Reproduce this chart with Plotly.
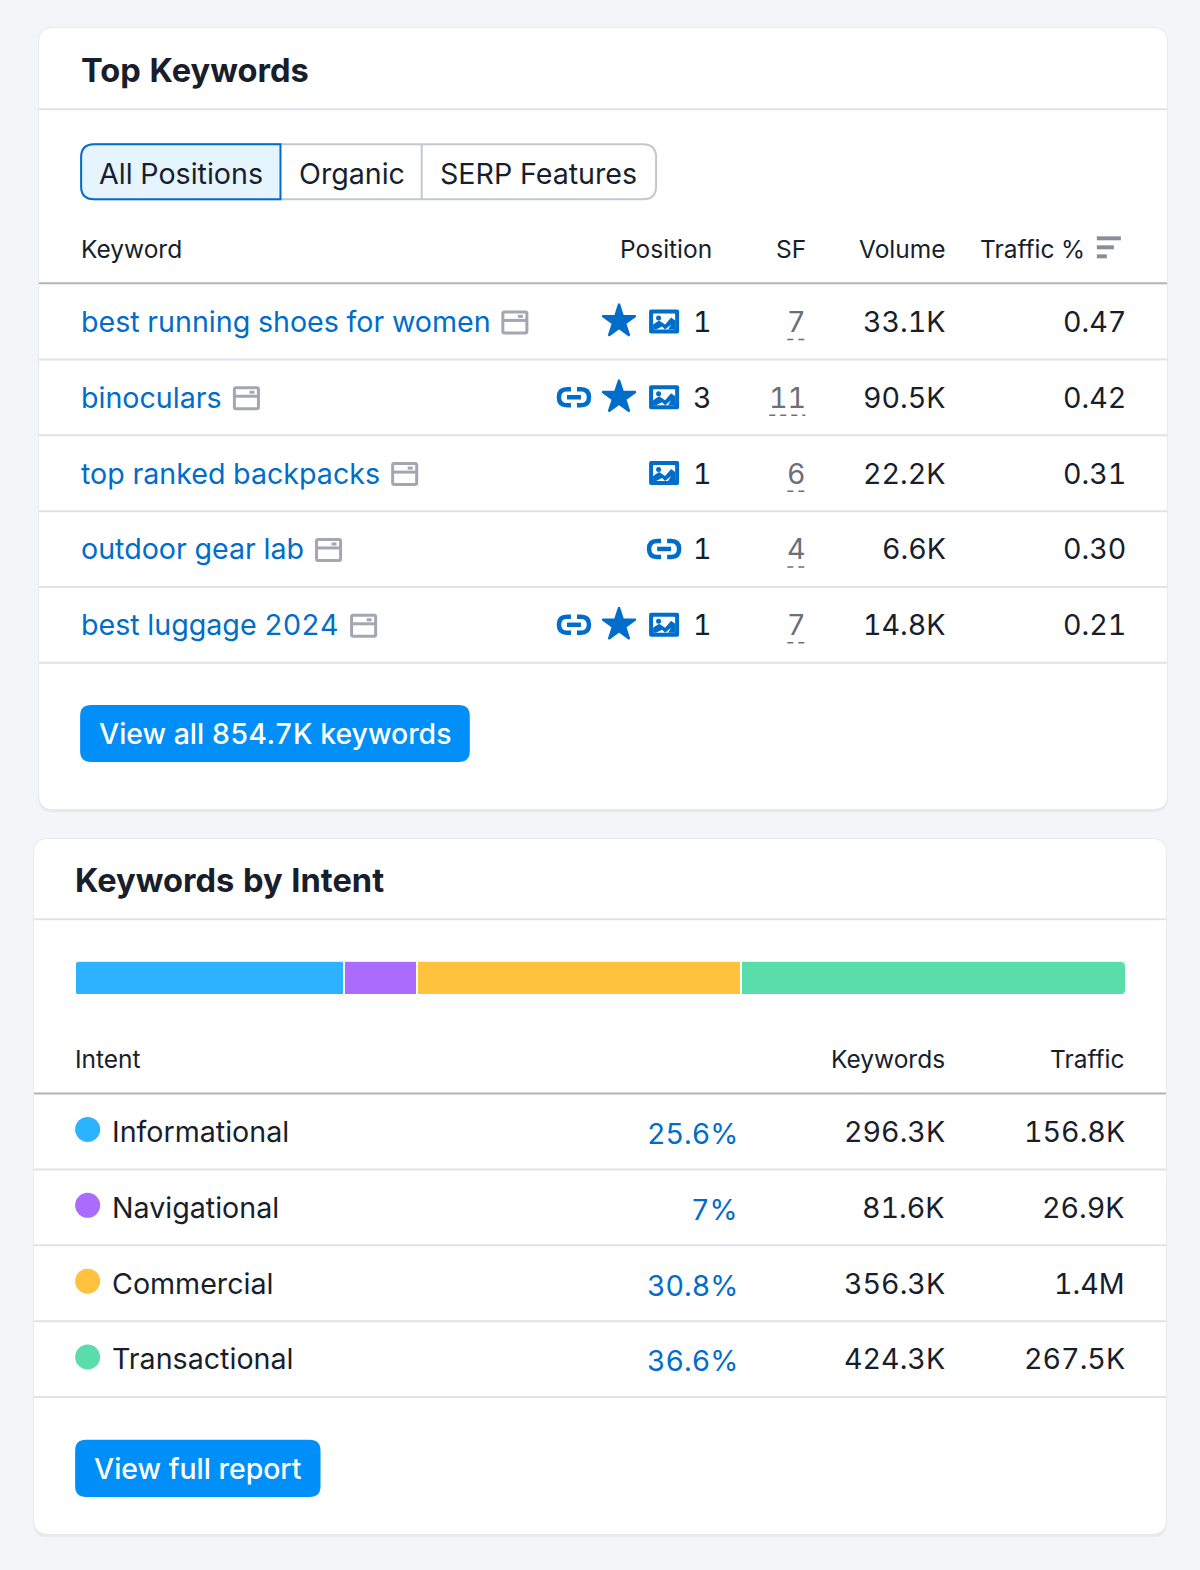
"""
Top keywords and keywords by intent panels, drawn on a pixel canvas with Plotly
"""

import plotly.graph_objects as go

WIDTH = 1200
HEIGHT = 1570
VIEW_W = 1198
VIEW_H = 1568

FONT = 'Inter'
INK = '#181e2b'
LINK = '#006dca'
GREY_ICON = '#a4a6b2'
RULE = '#e0e1e9'
RULE_STRONG = '#b0b3bb'
ROW_STEP = 75.75

# Top Keywords table: keyword, feature icons, position, SF, volume, traffic %, icon x
KEYWORDS = [
    ('best running shoes for women', ['star', 'image'], 1, 7, '33.1K', '0.47', 514),
    ('binoculars', ['link', 'star', 'image'], 3, 11, '90.5K', '0.42', 246),
    ('top ranked backpacks', ['image'], 1, 6, '22.2K', '0.31', 404),
    ('outdoor gear lab', ['link_single'], 1, 4, '6.6K', '0.30', 328),
    ('best luggage 2024', ['link', 'star', 'image'], 1, 7, '14.8K', '0.21', 363),
]

# Intent share of keywords
INTENTS = [
    ('Informational', 25.6, '25.6%', '296.3K', '156.8K', '#2bb3ff'),
    ('Navigational', 7.0, '7%', '81.6K', '26.9K', '#ab6cfe'),
    ('Commercial', 30.8, '30.8%', '356.3K', '1.4M', '#ffc23f'),
    ('Transactional', 36.6, '36.6%', '424.3K', '267.5K', '#59ddaa'),
]

# page has default body margins and proportional digits otherwise;
# nudging the sizes forces plotly to measure the tabular text again
POST_SCRIPT = """
document.body.style.margin = '0';
var s = document.createElement('style');
s.textContent = 'text {font-feature-settings: "tnum";}';
document.head.appendChild(s);
var gd = document.getElementById('{plot_id}');
var update = {};
gd.layout.annotations.forEach(function (a, i) {
    update['annotations[' + i + '].font.size'] = a.font.size + 0.01;
});
Plotly.relayout(gd, update);
"""


def rounded_rect(x0, y0, x1, y1, r):
    return (f'M{x0+r},{y0} L{x1-r},{y0} Q{x1},{y0} {x1},{y0+r} L{x1},{y1-r} Q{x1},{y1} {x1-r},{y1} '
            f'L{x0+r},{y1} Q{x0},{y1} {x0},{y1-r} L{x0},{y0+r} Q{x0},{y0} {x0+r},{y0} Z')


fig = go.Figure()
shapes = []


def add_text(x, y, text, size=28.6, color=INK, anchor='left', weight=400):
    # annotation boxes carry a little padding, take it back out
    x += {'left': -1.5, 'right': 2, 'center': 0}[anchor]
    fig.add_annotation(x=x, y=y, xref='x', yref='y', text=text, showarrow=False,
                       xanchor=anchor, yanchor='middle', borderpad=0,
                       font=dict(family=FONT, size=size, color=color, weight=weight))


def add_line(x0, x1, y, color=RULE, width=2, dash='solid'):
    shapes.append(dict(type='line', xref='x', yref='y', x0=x0, x1=x1, y0=y, y1=y, layer='above',
                       line=dict(color=color, width=width, dash=dash)))


def add_path(path, fill='rgba(0,0,0,0)', color='rgba(0,0,0,0)', width=0, layer='above'):
    shapes.append(dict(type='path', xref='x', yref='y', path=path, fillcolor=fill, layer=layer,
                       line=dict(color=color, width=width)))


def add_card(x0, y0, x1, y1):
    add_path(rounded_rect(x0 - 1, y0 - 1, x1 + 1, y1 + 3, 15), fill='#e7e9ef', layer='below')
    add_path(rounded_rect(x0, y0, x1, y1, 14), fill='white', layer='below')


def image_icon(cx, cy):
    add_path(rounded_rect(cx - 15, cy - 12, cx + 15, cy + 12, 2), fill=LINK)
    add_path(rounded_rect(cx - 11, cy - 8, cx + 11, cy + 8, 1), fill='white')
    # picture mountains
    add_path(f'M{cx-11},{cy+8} L{cx-11},{cy+3} L{cx-5},{cy-1} L{cx+1},{cy+3} L{cx+7},{cy-4} '
             f'L{cx+11},{cy-1} L{cx+11},{cy+8} L{cx+4},{cy+8} L{cx+7},{cy+3} L{cx+1},{cy+8} '
             f'L{cx-2},{cy+5} L{cx-8},{cy+8} Z', fill=LINK)
    add_path(rounded_rect(cx - 8, cy - 6, cx - 3, cy - 1, 2.5), fill=LINK)


def link_icon(cx, cy, half=15):
    h = 8
    add_path(f'M{cx-3},{cy-h} L{cx-half+8},{cy-h} Q{cx-half},{cy-h} {cx-half},{cy} '
             f'Q{cx-half},{cy+h} {cx-half+8},{cy+h} L{cx-3},{cy+h}', color=LINK, width=4.5)
    add_path(f'M{cx+3},{cy-h} L{cx+half-8},{cy-h} Q{cx+half},{cy-h} {cx+half},{cy} '
             f'Q{cx+half},{cy+h} {cx+half-8},{cy+h} L{cx+3},{cy+h}', color=LINK, width=4.5)
    add_line(cx - 7, cx + 7, cy, color=LINK, width=4.5)


def serp_icon(cx, cy):
    add_path(rounded_rect(cx - 12, cy - 10.5, cx + 12, cy + 10.5, 1.5), color=GREY_ICON, width=3)
    add_line(cx - 12, cx + 12, cy - 2, color=GREY_ICON, width=3)
    add_line(cx + 3, cx + 8, cy - 6, color=GREY_ICON, width=3)


# page cards
add_card(39, 28, 1165, 808)
add_card(34, 838, 1164, 1532)

# --- Top Keywords ---
add_text(81, 70, 'Top Keywords', size=32.6, weight=700)
add_line(39, 1165, 109)

# tabs
add_path(rounded_rect(81, 144, 655, 199, 13), fill='white', color='#c4c7cf', width=2)
shapes.append(dict(type='line', xref='x', yref='y', x0=421, x1=421, y0=144, y1=199,
                   layer='above', line=dict(color='#c4c7cf', width=2)))
add_path('M94,144 L280,144 L280,199 L94,199 Q81,199 81,186 L81,157 Q81,144 94,144 Z',
         fill='#e6f4ff', color=LINK, width=2)
add_text(181, 173, 'All Positions', anchor='center')
add_text(351, 173, 'Organic', anchor='center')
add_text(538, 173, 'SERP Features', anchor='center')

# table header
HEAD_Y = 249
add_text(81, HEAD_Y, 'Keyword', size=24.5)
add_text(710, HEAD_Y, 'Position', size=24.5, anchor='right')
add_text(804, HEAD_Y, 'SF', size=24.5, anchor='right')
add_text(943, HEAD_Y, 'Volume', size=24.5, anchor='right')
add_text(1082, HEAD_Y, 'Traffic %', size=24.5, anchor='right')
add_line(1095, 1119, 238, color='#8b8e99', width=4)
add_line(1095, 1112, 247, color='#8b8e99', width=4)
add_line(1095, 1105, 256, color='#8b8e99', width=4)
add_line(39, 1165, 283, color=RULE_STRONG)

star_x, star_y = [], []
for i, (kw, icons, pos, sf, volume, traffic, icon_x) in enumerate(KEYWORDS):
    y = 321 + i * ROW_STEP
    add_text(81, y, kw, color=LINK)
    serp_icon(icon_x, y + 1)
    for icon in icons:
        if icon == 'image':
            image_icon(663, y)
        elif icon == 'star':
            star_x.append(618)
            star_y.append(y)
        elif icon == 'link':
            link_icon(573, y)
        elif icon == 'link_single':
            link_icon(663, y)
    add_text(710, y, str(pos), anchor='right')
    add_text(804, y, str(sf), color='#6c6e79', anchor='right')
    add_line(804 - 18 * len(str(sf)), 804, y + 18, color='#6c6e79', width=1.5, dash='6px,5px')
    add_text(943, y, volume, anchor='right')
    add_text(1123, y, traffic, anchor='right')
    add_line(39, 1165, y + 38)

fig.add_trace(go.Scatter(x=star_x, y=star_y, mode='markers', hoverinfo='skip', showlegend=False,
                         marker=dict(symbol='star', size=25, color=LINK, line=dict(color=LINK, width=2))))

add_path(rounded_rect(80, 704, 469, 761, 11), fill='#008ff8')
add_text(274.5, 733, 'View all 854.7K keywords', size=28.4, color='white', anchor='center', weight=500)

# --- Keywords by Intent ---
add_text(75, 879, 'Keywords by Intent', size=32.6, weight=700)
add_line(34, 1164, 918)

# stacked share bar, on its own axes placed over the canvas (border eats 1px each side)
BAR_X0, BAR_X1, BAR_Y0, BAR_Y1 = 74.5, 1124.5, 960, 994
for name, share, _, _, _, color in INTENTS:
    fig.add_trace(go.Bar(x=[share], y=['share'], orientation='h', xaxis='x2', yaxis='y2',
                         name=name, showlegend=False, hoverinfo='skip', width=1,
                         marker=dict(color=color, line=dict(color='white', width=2))))
# rounded ends of the bar
add_path('M75,961 L79,961 Q75,961 75,965 Z', fill='white')
add_path('M75,993 L79,993 Q75,993 75,989 Z', fill='white')
add_path('M1123,961 L1119,961 Q1123,961 1123,965 Z', fill='white')
add_path('M1123,993 L1119,993 Q1123,993 1123,989 Z', fill='white')

add_text(75, 1058, 'Intent', size=24.5)
add_text(942, 1058, 'Keywords', size=24.5, anchor='right')
add_text(1122, 1058, 'Traffic', size=24.5, anchor='right')
add_line(34, 1164, 1092, color=RULE_STRONG)

dot_y = []
for i, (name, share, share_label, kws, traffic, color) in enumerate(INTENTS):
    y = 1130 + i * ROW_STEP
    dot_y.append(y - 2)
    add_text(112, y, name)
    add_text(736, y + 2, share_label, color=LINK, anchor='right')
    add_text(942, y, kws, anchor='right')
    add_text(1122, y, traffic, anchor='right')
    add_line(34, 1164, y + 38)

fig.add_trace(go.Scatter(x=[87.5] * len(dot_y), y=dot_y, mode='markers', hoverinfo='skip', showlegend=False,
                         marker=dict(size=25, color=[row[5] for row in INTENTS], line=dict(width=0))))

add_path(rounded_rect(75, 1438, 320, 1495, 11), fill='#008ff8')
add_text(197.5, 1467, 'View full report', size=28.4, color='white', anchor='center', weight=500)

fig.update_layout(
    width=WIDTH,
    height=HEIGHT,
    margin=dict(l=0, r=0, t=0, b=0),
    paper_bgcolor='#f3f5f9',
    plot_bgcolor='rgba(0,0,0,0)',
    barmode='stack',
    showlegend=False,
    dragmode=False,
    shapes=shapes,
    xaxis=dict(range=[0, VIEW_W], visible=False, domain=[0, 1], fixedrange=True),
    yaxis=dict(range=[VIEW_H, 0], visible=False, domain=[0, 1], fixedrange=True),
    xaxis2=dict(range=[0, 100], visible=False, anchor='y2', fixedrange=True,
                domain=[BAR_X0 / VIEW_W, BAR_X1 / VIEW_W]),
    yaxis2=dict(visible=False, anchor='x2', fixedrange=True,
                domain=[1 - BAR_Y1 / VIEW_H, 1 - BAR_Y0 / VIEW_H]),
)

fig.write_html("out.html", post_script=POST_SCRIPT, config=dict(displayModeBar=False))
